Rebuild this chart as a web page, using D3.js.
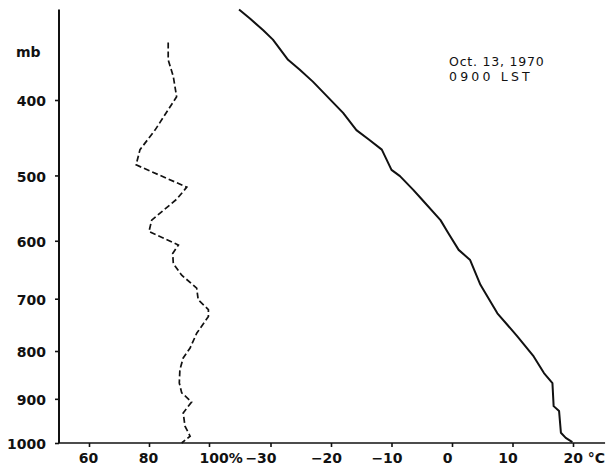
<!DOCTYPE html>
<html>
<head>
<meta charset="utf-8">
<script src="https://cdn.jsdelivr.net/npm/d3@7"></script>
<style>
  body { margin: 0; background: #fff; }
  svg { display: block; }
  text { font-family: "DejaVu Sans", sans-serif; fill: #111; }
</style>
</head>
<body>
<div id="sounding"></div>
<script>
// pressure levels (mb) and temperature (C) of the solid curve
var tempP = [300, 309, 321, 331, 353, 364, 378, 416, 438, 450, 464, 492, 501, 521, 535, 567, 588, 615, 632, 675, 727, 771, 811, 845, 866, 916, 927, 976, 988, 998]
var tempC = [-35.2, -33.4, -31.2, -29.6, -27.1, -25.2, -23.0, -18.0, -15.8, -13.8, -11.6, -10.0, -8.6, -6.4, -5.0, -1.9, -0.6, 1.1, 3.0, 4.7, 7.5, 10.8, 13.5, 15.2, 16.6, 16.8, 17.7, 18.0, 18.8, 19.9]

// pressure levels (mb) and relative humidity (%) of the dashed curve
var rhP = [334, 353, 372, 396, 412, 438, 464, 485, 517, 535, 567, 585, 607, 621, 638, 658, 681, 702, 720, 733, 765, 794, 814, 838, 866, 887, 907, 931, 961, 984, 1000]
var rhVal = [86.4, 86.4, 88.1, 89.2, 86.4, 82.0, 77.0, 75.7, 92.6, 89.2, 80.9, 80.0, 89.8, 87.9, 88.1, 90.9, 95.9, 96.4, 99.8, 99.8, 95.9, 93.7, 91.4, 90.3, 90.1, 90.9, 94.2, 91.4, 92.0, 93.7, 90.9]

// axis ticks
var pTicks = [400, 500, 600, 700, 800, 900, 1000]
var rhTicks = [60, 80, 100]
var rhTickLabels = ["60", "80", "100%"]
var tTicks = [-30, -20, -10, 0, 10, 20]
var tTickLabels = ["\u221230", "\u221220", "\u221210", "0", "10", "20 \u00b0C"]

var noteLines = ["Oct. 13, 1970", "0900 LST"]

var width = 607, height = 475

var svg = d3.select("#sounding")
    .append("svg")
        .attr("width", width)
        .attr("height", height)

// pressure axis is scaled as p^0.286
var y = d3.scalePow().exponent(0.286)
    .domain([400, 1000])
    .range([100, 443])

var xRh = d3.scaleLinear()
    .domain([50, 100])
    .range([59, 209])

var xT = d3.scaleLinear()
    .domain([-40, 20])
    .range([210, 573])

// axis lines
svg.append("line")
    .attr("x1", xRh(50)).attr("x2", xRh(50))
    .attr("y1", y(300)).attr("y2", y(1000))
    .attr("stroke", "#111").attr("stroke-width", 2)

svg.append("line")
    .attr("x1", xRh(50)).attr("x2", xT(25.3))
    .attr("y1", y(1000)).attr("y2", y(1000))
    .attr("stroke", "#111").attr("stroke-width", 1.6)

// Y axis
var yAxis = svg.append("g")
    .attr("transform", "translate(" + xRh(50) + ",0)")
    .call(d3.axisLeft(y).tickValues(pTicks).tickSize(4).tickPadding(9).tickFormat(d3.format("d")))
yAxis.select(".domain").remove()
yAxis.selectAll("line").attr("stroke", "#111").attr("stroke-width", 1.6)
yAxis.selectAll("text")
    .style("font-size", "14px")
    .style("font-weight", "bold")
    .attr("dy", "0.4em")

svg.append("text")
    .attr("x", 16)
    .attr("y", 57)
    .style("font-size", "14px")
    .style("font-weight", "bold")
    .text("mb")

// humidity axis
var rhAxis = svg.append("g")
    .attr("transform", "translate(0," + y(1000) + ")")
    .call(d3.axisBottom(xRh).tickValues(rhTicks).tickSize(4).tickPadding(6)
        .tickFormat(function(d, i) { return rhTickLabels[i] }))
rhAxis.select(".domain").remove()
rhAxis.selectAll("line").attr("stroke", "#111").attr("stroke-width", 1.6)
rhAxis.selectAll("text")
    .style("font-size", "14px")
    .style("font-weight", "bold")
    .attr("text-anchor", function(d) { return d == 100 ? "start" : "middle" })
    .attr("dx", function(d) { return d == 100 ? -10 : -1 })

// temperature axis
var tAxis = svg.append("g")
    .attr("transform", "translate(0," + y(1000) + ")")
    .call(d3.axisBottom(xT).tickValues(tTicks).tickSize(4).tickPadding(6)
        .tickFormat(function(d, i) { return tTickLabels[i] }))
tAxis.select(".domain").remove()
tAxis.selectAll("line").attr("stroke", "#111").attr("stroke-width", 1.6)
tAxis.selectAll("text")
    .style("font-size", "14px")
    .style("font-weight", "bold")
    .attr("text-anchor", function(d) { return d == 20 ? "start" : "middle" })
    .attr("dx", function(d) {
        if (d == 20) return -10
        if (d == -30) return -10
        return -5
    })

// curves
var tempLine = d3.line()
    .x(function(d, i) { return xT(tempC[i]) })
    .y(function(d) { return y(d) })

svg.append("path")
    .attr("d", tempLine(tempP))
    .attr("fill", "none")
    .attr("stroke", "#111")
    .attr("stroke-width", 2)
    .attr("stroke-linejoin", "round")

var rhLine = d3.line()
    .x(function(d, i) { return xRh(rhVal[i]) })
    .y(function(d) { return y(d) })

svg.append("path")
    .attr("d", rhLine(rhP))
    .attr("fill", "none")
    .attr("stroke", "#111")
    .attr("stroke-width", 1.7)
    .attr("stroke-dasharray", "6,3")

// date note
svg.append("text")
    .attr("x", 449)
    .attr("y", 66)
    .style("font-size", "12.5px")
    .style("letter-spacing", "0.8px")
    .text(noteLines[0])

svg.append("text")
    .attr("x", 449)
    .attr("y", 81)
    .style("font-size", "12.5px")
    .style("letter-spacing", "3.2px")
    .text(noteLines[1])
</script>
</body>
</html>
